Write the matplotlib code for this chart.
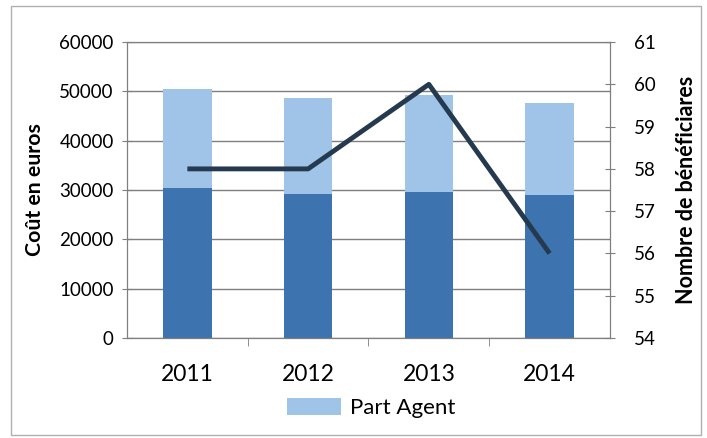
import matplotlib
matplotlib.use("Agg")
import matplotlib.pyplot as plt
from matplotlib.patches import Rectangle, Patch

plt.rcParams['font.family'] = ['Lato', 'DejaVu Sans']

years = ["2011", "2012", "2013", "2014"]
part_employeur = [30400, 29200, 29500, 28900]
part_agent = [20100, 19400, 19750, 18800]
beneficiaires = [58, 58, 60, 56]

dark = "#3d74b0"
light = "#9fc4e8"
line_c = "#263a4f"
grid_c = "#7f7f7f"

fig = plt.figure(figsize=(7.07, 4.38), dpi=100)
ax = fig.add_axes([0.1796, 0.2283, 0.6832, 0.6757])
x = list(range(len(years)))
ax.bar(x, part_employeur, width=0.4, color=dark, zorder=2)
ax.bar(x, part_agent, width=0.4, bottom=part_employeur, color=light, zorder=2, label="Part Agent")
ax.set_ylim(0, 60000)
ax.set_xlim(-0.5, 3.5)
ax.set_yticks(range(0, 60001, 10000))
ax.yaxis.grid(True, color=grid_c, linewidth=1.0, zorder=0)
ax.set_axisbelow(True)
ax.set_xticks(x)
ax.set_xticklabels(years, fontsize=16.5)
ax.tick_params(axis='x', length=0, pad=19)
ax.set_xticks([0.5, 1.5, 2.5], minor=True)
ax.tick_params(axis='x', which='minor', length=6, color=grid_c)
ax.tick_params(axis='y', labelsize=13.5, length=7, color=grid_c, direction='inout', pad=6)
ax.set_ylabel("Coût en euros", fontsize=15.3, fontweight='bold', labelpad=10)
for s in ax.spines.values():
    s.set_color(grid_c)

ax2 = ax.twinx()
ax2.plot(x, beneficiaires, color=line_c, linewidth=3.5, solid_capstyle='butt', zorder=3)
ax2.set_ylim(54, 61)
ax2.set_yticks(range(54, 62))
ax2.tick_params(axis='y', labelsize=13.5, length=7, color=grid_c, direction='inout', pad=14)
ax2.set_ylabel("Nombre de bénéficiares", fontsize=15.5, fontweight='bold', labelpad=14)
for s in ax2.spines.values():
    s.set_color(grid_c)

fig.legend(handles=[Patch(facecolor=light, label="Part Agent")], loc='center',
           bbox_to_anchor=(0.525, 0.068), frameon=False, fontsize=16,
           handlelength=2.4, handleheight=0.8, handletextpad=0.4)

fig.patches.append(Rectangle((0.016, 0.006), 0.975, 0.98, transform=fig.transFigure,
                             fill=False, edgecolor="#b0b0b0", linewidth=1.0))

fig.savefig("out.png", dpi=100)
